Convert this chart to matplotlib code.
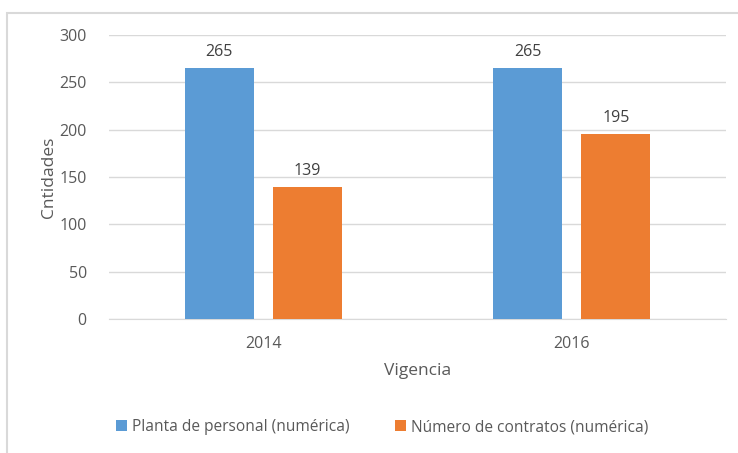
import numpy as np
import matplotlib.pyplot as plt
from matplotlib.patches import Rectangle

years = ["2014", "2016"]
planta = [265, 265]
contratos = [139, 195]
series_names = ["Planta de personal (numérica)", "Número de contratos (numérica)"]

plt.rcParams['font.family'] = ['Open Sans', 'DejaVu Sans']
gray = '#595959'

fig = plt.figure(figsize=(7.38, 4.53), dpi=100)
ax = fig.add_axes([0.1477, 0.2958, 0.836, 0.627])

# chart frame, partly cut off at right and bottom
fig.patches.append(Rectangle((7 / 738, -0.1), 1.2, 1 - 13 / 453 + 0.1,
                             transform=fig.transFigure, fill=False,
                             edgecolor='#D9D9D9', linewidth=1.5))

x = np.arange(len(years))
w = 0.224
off = 0.143
b1 = ax.bar(x - off, planta, w, color='#5B9BD5', label=series_names[0], zorder=3)
b2 = ax.bar(x + off, contratos, w, color='#ED7D31', label=series_names[1], zorder=3)

for bars in (b1, b2):
    for r in bars:
        ax.text(r.get_x() + r.get_width() / 2, r.get_height() + 9, f"{int(r.get_height())}",
                ha='center', va='bottom', fontsize=11.5, color='#404040')

ax.set_xlim(-0.5, 1.5)
ax.set_ylim(0, 300)
ax.set_yticks(range(0, 301, 50))
ax.set_xticks(x)
ax.set_xticklabels(years)
ax.yaxis.grid(True, color='#D9D9D9', linewidth=1, zorder=0)
for s in ['top', 'right', 'left']:
    ax.spines[s].set_visible(False)
ax.spines['bottom'].set_color('#D9D9D9')
ax.tick_params(length=0, labelsize=11.5, colors=gray)
ax.tick_params(axis='x', pad=12)
ax.tick_params(axis='y', pad=16)
ax.set_xlabel("Vigencia", fontsize=12.5, color=gray, labelpad=8)
ax.set_ylabel("Cntidades", fontsize=12.5, color=gray, labelpad=2)

fig.legend(handles=[b1, b2], labels=series_names, loc='center left',
           bbox_to_anchor=(0.138, 0.057), ncol=2, frameon=False, fontsize=11.2,
           handlelength=0.7, handleheight=0.7, handletextpad=0.35, columnspacing=2.9,
           labelcolor=gray)

fig.savefig("out.png", dpi=100)
